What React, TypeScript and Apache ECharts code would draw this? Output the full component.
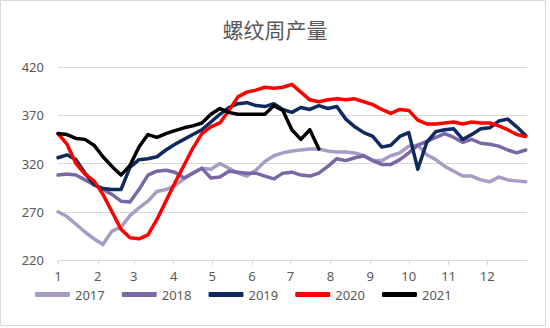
import React, { useEffect, useRef } from "react";
import * as echarts from "echarts";

const title = "螺纹周产量";
const years = ["2017", "2018", "2019", "2020", "2021"];
const colors = ["#A99CC4", "#7A67A6", "#0F2A5F", "#FF0000", "#000000"];
const monthLabels = ["1", "2", "3", "4", "5", "6", "7", "8", "9", "10", "11", "12"];
const monthStartDays = [0, 31, 59, 90, 120, 151, 181, 212, 243, 273, 304, 334];
const yTicks = { min: 220, max: 420, step: 50 };

const s2017 = [270, 265, 257, 249, 242, 236, 250, 254, 266, 274, 281, 291, 293, 297, 304, 310, 315, 314, 320, 315, 310, 307, 313, 322, 328, 331, 333, 334, 335, 335, 333, 332, 332, 331, 328, 323, 323, 328, 331, 338, 339, 329, 324, 317, 312, 307, 307, 303, 301, 306, 303, 302, 301];
const s2018 = [308, 309, 308, 303, 298, 293, 288, 281, 280, 293, 308, 312, 313, 311, 305, 310, 315, 305, 306, 312, 311, 310, 310, 307, 304, 310, 311, 308, 307, 310, 317, 325, 323, 326, 328, 323, 319, 319, 324, 331, 339, 343, 347, 351, 347, 342, 345, 341, 340, 338, 334, 331, 334];
const s2019 = [326, 329, 324, 310, 298, 294, 293, 293, 316, 324, 325, 327, 334, 340, 345, 350, 355, 363, 371, 378, 382, 383, 380, 379, 382, 376, 373, 378, 376, 380, 377, 379, 366, 358, 352, 348, 337, 339, 348, 352, 314, 342, 353, 355, 356, 345, 350, 356, 357, 364, 366, 358, 349];
const s2020 = [351, 340, 320, 309, 302, 288, 270, 252, 243, 242, 246, 262, 281, 300, 318, 336, 351, 358, 362, 375, 389, 394, 396, 399, 398, 399, 402, 394, 386, 384, 386, 387, 386, 387, 384, 381, 376, 372, 376, 375, 365, 361, 361, 362, 363, 361, 363, 362, 362, 359, 355, 350, 348];
const s2021 = [351, 350, 346, 345, 339, 327, 317, 308, 318, 337, 350, 347, 351, 354, 357, 359, 362, 371, 377, 373, 371, 371, 371, 371, 380, 375, 355, 345, 355, 335];

const seriesValues = [s2017, s2018, s2019, s2020, s2021];
const DAYS_PER_WEEK = 7;
const YEAR_DAYS = 365;

export default function App() {
  const ref = useRef<HTMLDivElement>(null);
  useEffect(() => {
    if (!ref.current) return;
    const chart = echarts.init(ref.current, null, { renderer: "svg" });
    const font = "'Noto Sans', 'Noto Sans CJK SC', sans-serif";
    chart.setOption({
      animation: false,
      backgroundColor: "#ffffff",
      textStyle: { fontFamily: font },
      title: {
        text: title,
        left: "center",
        top: 13,
        textStyle: { fontFamily: "'Noto Sans CJK SC', sans-serif", fontSize: 21, fontWeight: "normal", color: "#595959" },
      },
      graphic: [
        {
          type: "rect",
          shape: { x: 0.5, y: 0.5, width: 545, height: 325 },
          style: { fill: "none", stroke: "#D9D9D9", lineWidth: 1 },
          silent: true,
        },
      ],
      legend: {
        bottom: 22,
        left: 30,
        itemGap: 17,
        itemWidth: 35,
        itemHeight: 5,
        icon: "roundRect",
        data: years,
        textStyle: { color: "#595959", fontSize: 13, fontFamily: font },
      },
      grid: { left: 58, right: 23, top: 67, bottom: 68, containLabel: false },
      xAxis: {
        type: "value",
        min: 0,
        max: YEAR_DAYS,
        splitLine: { show: false },
        axisLine: { show: true, lineStyle: { color: "#D9D9D9", width: 1 } },
        axisTick: { show: true, length: 5, customValues: monthStartDays, lineStyle: { color: "#D9D9D9" } },
        axisLabel: {
          customValues: monthStartDays,
          color: "#595959",
          fontSize: 13,
          margin: 9,
          formatter: (v: number) => {
            const i = monthStartDays.indexOf(Math.round(v));
            return i >= 0 ? monthLabels[i] : "";
          },
        },
      },
      yAxis: {
        type: "value",
        min: yTicks.min,
        max: yTicks.max,
        interval: yTicks.step,
        axisLine: { show: false },
        axisTick: { show: false },
        splitLine: { lineStyle: { color: "#D9D9D9", width: 1 } },
        axisLabel: { color: "#595959", fontSize: 13, margin: 14 },
      },
      series: years.map((y, k) => ({
        name: y,
        type: "line",
        showSymbol: false,
        symbol: "none",
        smooth: false,
        color: colors[k],
        lineStyle: { width: 3.5, color: colors[k], cap: "round", join: "round" },
        data: seriesValues[k].map((v, i) => [i * DAYS_PER_WEEK, v]),
      })),
    });
    return () => chart.dispose();
  }, []);
  return <div ref={ref} style={{ width: 550, height: 328, position: "absolute", left: 0, top: 0 }} />;
}
